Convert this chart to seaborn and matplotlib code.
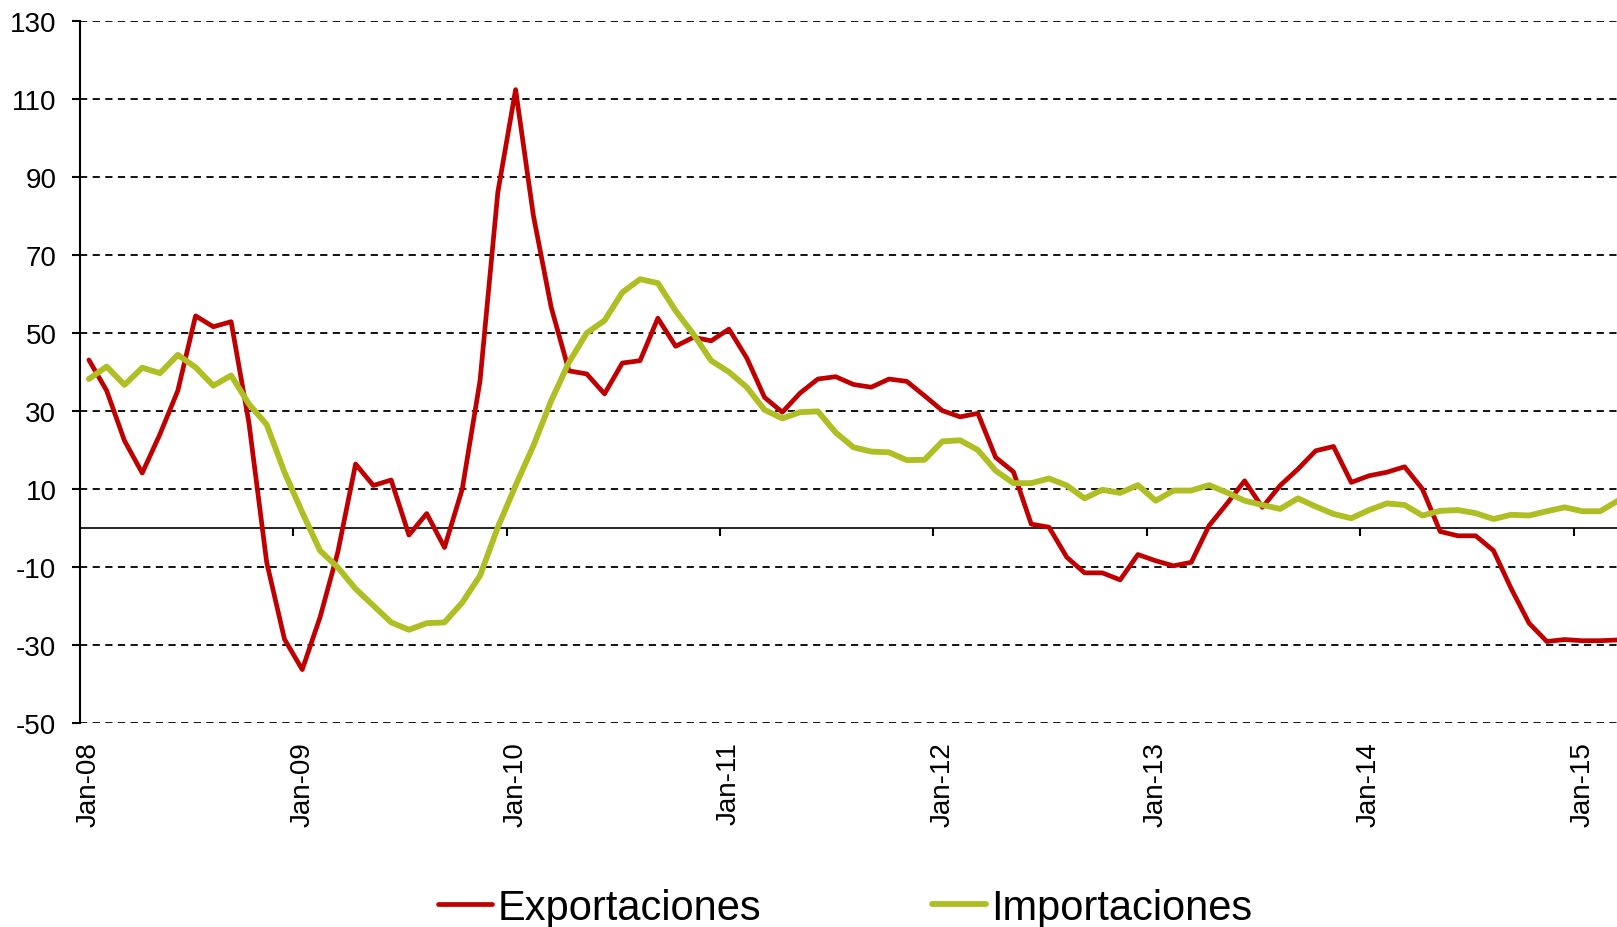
import numpy as np
import pandas as pd
import matplotlib
matplotlib.use("Agg")
import matplotlib.pyplot as plt
import seaborn as sns

#%%
# monthly series, Jan-08 .. Mar-15

years = ['08', '09', '10', '11', '12', '13', '14', '15']
months = ['Jan', 'Feb', 'Mar', 'Apr', 'May', 'Jun', 'Jul', 'Aug', 'Sep', 'Oct', 'Nov', 'Dec']
periods = [m + '-' + y for y in years for m in months][:87]

exportaciones = [43.1, 35.2, 22.4, 14.1, 24.1, 35.2, 54.4, 51.6, 52.9, 27.0, -8.8, -28.5,
                 -36.3, -22.9, -6.2, 16.4, 10.9, 12.3, -1.8, 3.7, -5.0, 10.0, 37.8, 86.1,
                 112.4, 80.1, 56.6, 40.3, 39.5, 34.4, 42.3, 42.9, 53.8, 46.6, 48.9, 48.0,
                 51.0, 43.6, 33.5, 29.7, 34.6, 38.2, 38.8, 36.8, 36.1, 38.2, 37.6, 33.9,
                 30.1, 28.5, 29.4, 18.1, 14.4, 1.0, 0.2, -7.5, -11.5, -11.5, -13.3, -6.8,
                 -8.4, -9.7, -8.8, 0.6, 6.2, 12.1, 5.3, 10.9, 15.1, 19.8, 20.9, 11.7,
                 13.4, 14.3, 15.7, 10.0, -0.9, -2.0, -2.0, -5.8, -15.6, -24.4, -29.1, -28.6,
                 -28.9, -28.9, -28.7]

importaciones = [38.2, 41.4, 36.7, 41.1, 39.7, 44.4, 41.2, 36.5, 39.1, 31.8, 26.5, 14.3,
                 4.0, -5.8, -10.1, -15.6, -19.9, -24.2, -26.1, -24.4, -24.2, -19.1, -12.2, 0.2,
                 10.9, 21.1, 32.6, 42.5, 50.0, 53.2, 60.4, 63.8, 62.8, 55.7, 49.7, 42.9,
                 40.0, 36.1, 30.3, 28.1, 29.7, 29.9, 24.5, 20.7, 19.6, 19.4, 17.4, 17.5,
                 22.2, 22.5, 20.0, 14.7, 11.5, 11.5, 12.7, 10.9, 7.6, 9.8, 9.0, 11.0,
                 7.0, 9.6, 9.6, 11.0, 9.1, 7.0, 5.9, 4.9, 7.6, 5.5, 3.6, 2.5,
                 4.6, 6.3, 5.9, 3.2, 4.4, 4.6, 3.8, 2.3, 3.4, 3.2, 4.3, 5.3,
                 4.3, 4.3, 7.0]

y_ticks = [-50, -30, -10, 10, 30, 50, 70, 90, 110, 130]

df = pd.DataFrame({'periodo': periods, 'Exportaciones': exportaciones,
                   'Importaciones': importaciones})
df['pos'] = np.arange(len(df))

#%%

sns.set_style("white")
plt.rcParams['font.family'] = ['Liberation Sans', 'DejaVu Sans']
plt.rcParams['text.color'] = 'black'
plt.rcParams['xtick.color'] = 'black'
plt.rcParams['ytick.color'] = 'black'

fig = plt.figure(figsize=(16.17, 9.28), dpi=100)
ax = fig.add_axes([80 / 1617, 204 / 928, 1537 / 1617, 702 / 928])

sns.lineplot(data=df, x='pos', y='Exportaciones', ax=ax, color='#C00000',
             lw=3.4, label='Exportaciones', legend=False)
sns.lineplot(data=df, x='pos', y='Importaciones', ax=ax, color='#AFBE22',
             lw=4.2, label='Importaciones', legend=False)

ax.set_ylim(-50, 130)
ax.set_xlim(-0.5, -0.5 + 1537 / 17.78)
ax.set_yticks(y_ticks)
ax.set_yticklabels([str(v) for v in y_ticks])
ax.yaxis.grid(True, color='black', lw=1.3, linestyle=(0, (4, 3)))
ax.xaxis.grid(False)

jan_pos = [p for p, lab in zip(df['pos'], periods) if lab.startswith('Jan')]
jan_lab = [lab for lab in periods if lab.startswith('Jan')]
ax.set_xticks(jan_pos)
ax.set_xticklabels(jan_lab, rotation=90, fontsize=20, color='black')
ax.tick_params(axis='x', length=0, pad=13)
ax.tick_params(axis='y', direction='out', length=6, width=1.5, labelsize=20,
               pad=11, left=True, color='black', labelcolor='black')
ax.set_xlabel('')
ax.set_ylabel('')

for side in ['top', 'right', 'bottom']:
    ax.spines[side].set_visible(False)
ax.spines['left'].set_color('black')
ax.spines['left'].set_linewidth(1.5)

# category axis crossing at zero, ticks between categories
zero_frac = (0 - (-50)) / 180
sec = ax.secondary_xaxis(zero_frac)
sec.set_xticks([-0.5 + 12 * k for k in range(1, 8)])
sec.set_xticklabels([])
sec.tick_params(direction='out', length=6, width=1.5, color='black')
sec.spines['bottom'].set_color('black')
sec.spines['bottom'].set_linewidth(1.2)

handles, labels = ax.get_legend_handles_labels()
leg = fig.legend(handles, labels, loc='center', bbox_to_anchor=(845 / 1617, 1 - 909 / 928),
                 ncol=2, frameon=False, fontsize=30, handlelength=1.3,
                 handletextpad=0.12, columnspacing=4.1)
for t in leg.get_texts():
    t.set_color('black')

fig.savefig('out.png', dpi=100)
